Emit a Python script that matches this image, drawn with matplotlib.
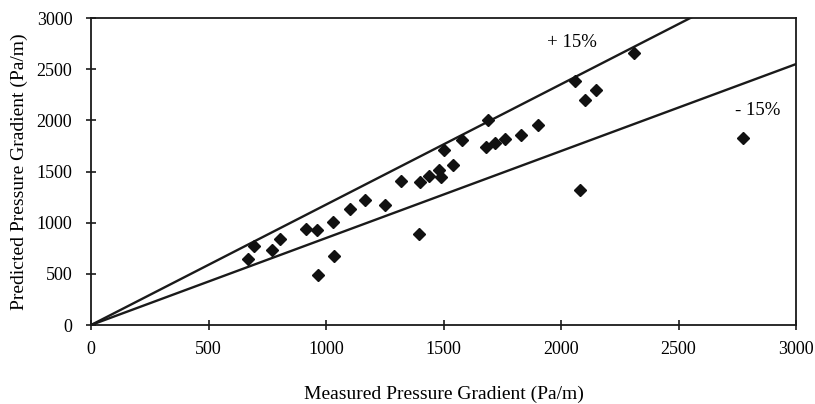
import numpy as np
import matplotlib.pyplot as plt

plt.rcParams['font.family'] = ['Liberation Serif', 'DejaVu Serif']

# measured vs predicted pressure gradient (Pa/m)
measured = [670, 695, 770, 805, 915, 960, 965, 1030, 1035, 1100, 1165, 1250,
            1320, 1395, 1400, 1440, 1480, 1490, 1500, 1540, 1580, 1680, 1690,
            1720, 1760, 1830, 1900, 2060, 2080, 2100, 2150, 2310, 2775]
predicted = [650, 770, 730, 840, 935, 930, 490, 1010, 670, 1130, 1220, 1175,
             1410, 890, 1400, 1455, 1510, 1445, 1710, 1560, 1810, 1740, 2000,
             1780, 1820, 1860, 1950, 2380, 1320, 2200, 2300, 2660, 1830]

band = 0.15
ticks = [0, 500, 1000, 1500, 2000, 2500, 3000]

fig = plt.figure(figsize=(8.15, 4.04), dpi=100)
ax = fig.add_axes([0.1117, 0.1955, 0.865, 0.7599])

# +/- 15% lines
xl = np.array([0, 3000])
ax.plot(xl, xl / (1 - band), color='#1a1a1a', lw=1.7)
ax.plot(xl, xl * (1 - band), color='#1a1a1a', lw=1.7)

ax.plot(measured, predicted, 'D', color='#111111', ms=6.5, mec='#111111')

ax.text(1940, 2765, '+ 15%', fontsize=13.5, ha='left', va='center')
ax.text(2740, 2100, '- 15%', fontsize=13.5, ha='left', va='center')

ax.set_xlim(0, 3000)
ax.set_ylim(0, 3000)
ax.set_xticks(ticks)
ax.set_yticks(ticks)
ax.tick_params(direction='inout', length=7, width=1.2, labelsize=13,
               color='#1a1a1a')
ax.tick_params(axis='x', pad=8)
ax.tick_params(axis='y', pad=10)
for s in ax.spines.values():
    s.set_linewidth(1.3)
    s.set_color('#1a1a1a')

ax.set_xlabel('Measured Pressure Gradient (Pa/m)', fontsize=14, labelpad=20)
ax.set_ylabel('Predicted Pressure Gradient (Pa/m)', fontsize=14, labelpad=6)

plt.savefig('out.png', dpi=100)
